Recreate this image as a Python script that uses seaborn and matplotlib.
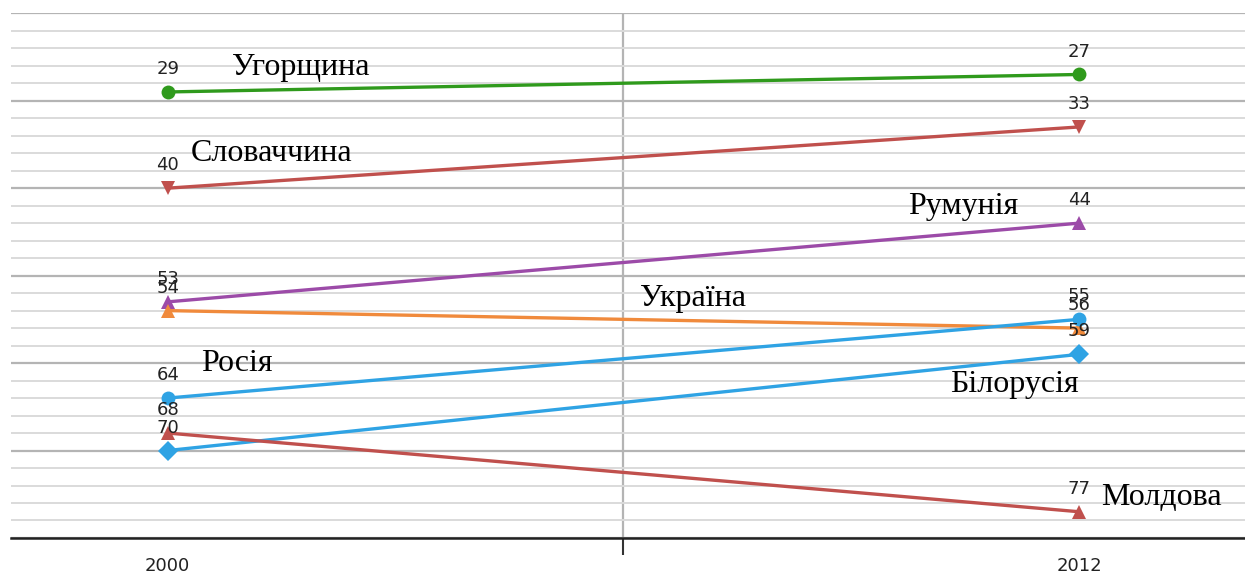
import matplotlib
matplotlib.use('Agg')
import numpy as np
import pandas as pd
import seaborn as sns
import matplotlib.pyplot as plt
from matplotlib.ticker import MultipleLocator

# --- Data (rank of each country, lower is better)
years = ['2000', '2012']
countries = ['Угорщина', 'Словаччина', 'Румунія', 'Україна', 'Росія', 'Білорусія', 'Молдова']
rank_2000 = [29, 40, 53, 54, 64, 70, 68]
rank_2012 = [27, 33, 44, 56, 55, 59, 77]

# --- Styles
colors = {'Угорщина': '#2f9a1c', 'Словаччина': '#c0504d', 'Румунія': '#9c4ba8',
          'Україна': '#f08a3c', 'Росія': '#2fa3e4', 'Білорусія': '#2fa3e4',
          'Молдова': '#c0504d'}
markers = {'Угорщина': 'o', 'Словаччина': 'v', 'Румунія': '^', 'Україна': '^',
           'Росія': 'o', 'Білорусія': 'D', 'Молдова': '^'}
# name label positions (x in category units, y in rank units)
name_pos = {'Угорщина': (0.071, 26.2), 'Словаччина': (0.025, 36.0),
            'Румунія': (0.812, 42.1), 'Україна': (0.518, 52.6),
            'Росія': (0.037, 60.1), 'Білорусія': (0.858, 62.5),
            'Молдова': (1.024, 75.4)}

df = pd.DataFrame({
    'country': countries * 2,
    'pos': [0] * len(countries) + [1] * len(countries),
    'rank': rank_2000 + rank_2012,
})

sns.set_style('white')
fig = plt.figure(figsize=(12.45, 5.76), dpi=100)
ax = fig.add_axes([0.0088, 0.066, 0.9912, 0.911])

# gridlines
ax.set_ylim(80, 20)
ax.yaxis.set_major_locator(MultipleLocator(10))
ax.yaxis.set_minor_locator(MultipleLocator(2))
ax.grid(which='minor', axis='y', color='#dadada', lw=1.4, zorder=0)
ax.grid(which='major', axis='y', color='#b4b4b4', lw=1.6, zorder=0)
ax.tick_params(axis='y', which='both', length=0, labelleft=False)

sns.lineplot(data=df, x='pos', y='rank', hue='country', style='country',
             hue_order=countries, style_order=countries,
             palette=colors, markers=markers, dashes=False, legend=False,
             linewidth=2.4, markersize=10, markeredgewidth=0, ax=ax, zorder=3)

# data labels
for i, c in enumerate(countries):
    for x, v in zip([0, 1], [rank_2000[i], rank_2012[i]]):
        ax.annotate(str(v), (x, v), xytext=(0, 10), textcoords='offset points',
                    ha='center', va='bottom', fontsize=13, color='#222222', zorder=5)

# country names
for c in countries:
    x, y = name_pos[c]
    ax.text(x, y, c, ha='left', va='center', fontsize=23,
            family=['Liberation Serif', 'DejaVu Serif'], color='black', zorder=6)

# x axis: category boundary tick + year labels
ax.set_xlim(-0.172, 1.182)
ax.set_xticks([0.5])
ax.set_xticklabels([''])
ax.set_xticks([0, 1], minor=True)
ax.set_xticklabels(years, minor=True)
ax.tick_params(axis='x', which='major', bottom=True, length=12, width=1.5,
               color='#333333', direction='out')
ax.tick_params(axis='x', which='minor', bottom=True, length=0, pad=14,
               labelsize=13, labelcolor='#222222')
ax.grid(which='major', axis='x', color='#b4b4b4', lw=1.6, zorder=0)
ax.set_xlabel('')
ax.set_ylabel('')

for s in ['left', 'right', 'top']:
    ax.spines[s].set_visible(False)
ax.spines['bottom'].set_color('#222222')
ax.spines['bottom'].set_linewidth(1.8)

fig.savefig('out.png', dpi=100)
